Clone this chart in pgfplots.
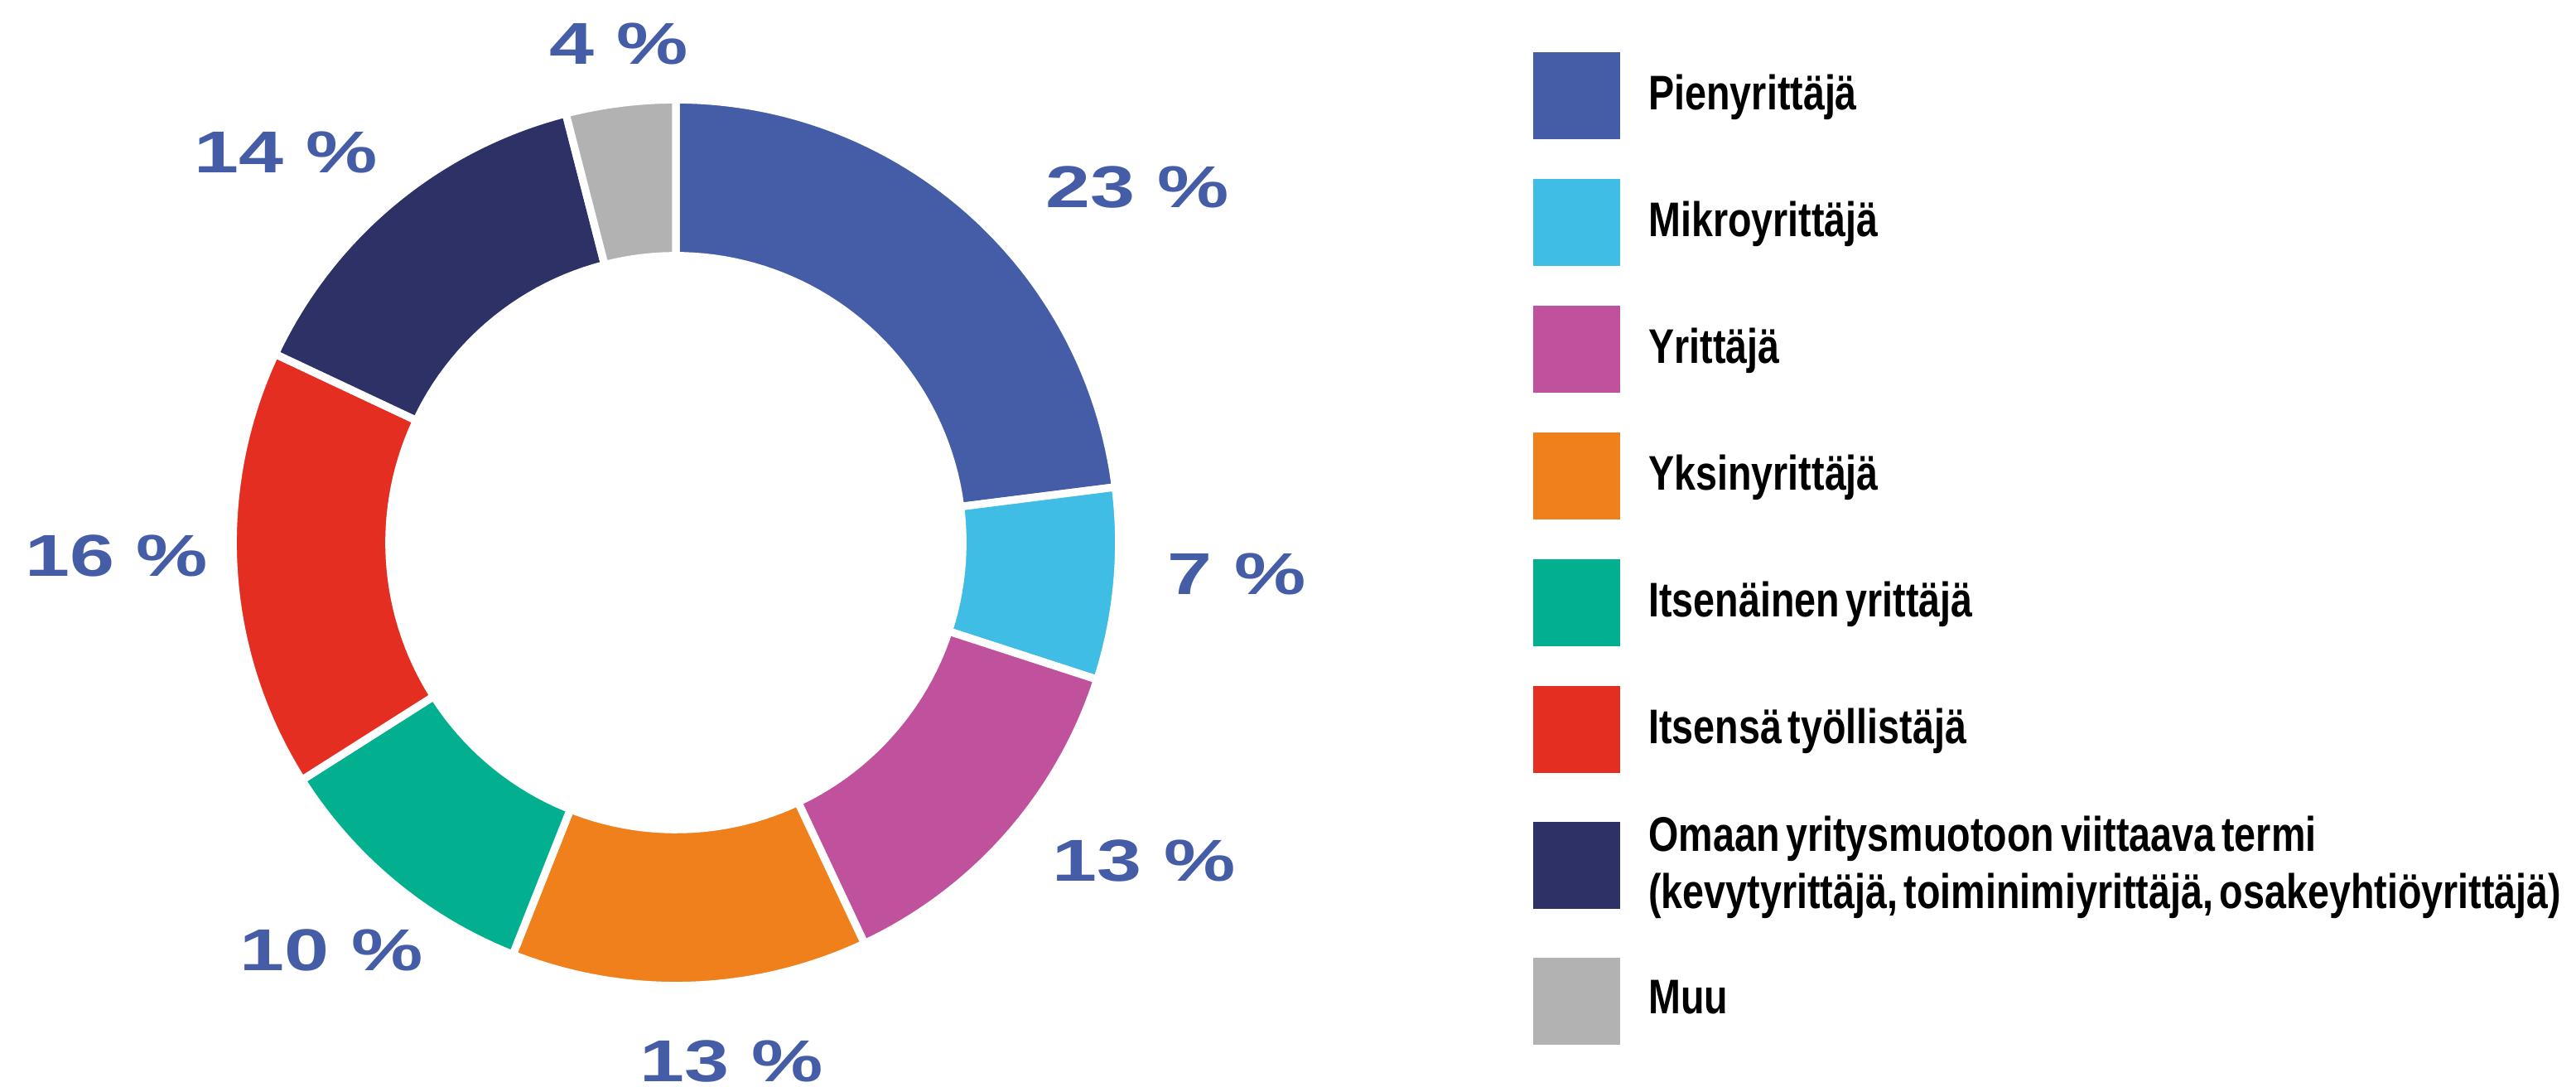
\documentclass[border=0pt]{standalone}
\usepackage{pgfplots}
\pgfplotsset{compat=1.18}
\usepackage{fontspec}
\setmainfont{Liberation Sans}
\newfontfamily\legfont[FakeStretch=0.795, WordSpace=0.6]{Liberation Sans}
\newfontfamily\labfont[FakeStretch=1.36]{Liberation Sans}
\definecolor{cPien}{HTML}{455DA7}
\definecolor{cMikro}{HTML}{3FBDE4}
\definecolor{cYritt}{HTML}{C0519C}
\definecolor{cYksin}{HTML}{EF801C}
\definecolor{cItsen}{HTML}{02B08F}
\definecolor{cTyo}{HTML}{E52E22}
\definecolor{cOmaan}{HTML}{2E3166}
\definecolor{cMuu}{HTML}{B2B2B2}
\definecolor{labblue}{HTML}{455DA7}
\tikzset{lab/.style={font=\labfont\bfseries\fontsize{10.7}{12}\selectfont, text=labblue, inner sep=0pt}}
\newcommand\cum{0}
\newcommand\slice[3]{%
  \pgfmathsetmacro\aS{90-3.6*\cum}%
  \pgfmathsetmacro\newcum{\cum+#1}%
  \pgfmathsetmacro\aE{90-3.6*\newcum}%
  \edef\doplot{\noexpand\addplot[fill=#2, draw=white, line width=1.4pt, line join=round, domain=\aE:\aS, samples=90] ({1.009*cos(x)},{1.009*sin(x)}) -- (0,0) -- cycle;}%
  \doplot
  \addlegendentry{#3}%
  \xdef\cum{\newcum}%
}
\begin{document}
\begin{tikzpicture}
\begin{axis}[
  scale only axis, width=466.5pt, height=196.8pt,
  xmin=-1.5396, xmax=4.328, ymin=-1.2396, ymax=1.2358,
  hide axis, clip=false,
  legend cell align=left,
  legend image code/.code={\fill[#1,draw=none] (0pt,-7.875pt) rectangle (15.75pt,7.875pt);},
  legend style={at={(0.5949,0.9527)}, anchor=north west, draw=none, fill=none,
    inner sep=0pt, row sep=7.2pt,
    font=\legfont\bfseries\fontsize{8.8}{10.4}\selectfont,
    nodes={align=left},
    /tikz/every odd column/.append style={column sep=3.1pt}},
]
\path (rel axis cs:0,0) rectangle (rel axis cs:1,1);
\slice{23}{cPien}{Pienyrittäjä}
\slice{7}{cMikro}{Mikroyrittäjä}
\slice{13}{cYritt}{Yrittäjä}
\slice{13}{cYksin}{Yksinyrittäjä}
\slice{10}{cItsen}{Itsenäinen yrittäjä}
\slice{16}{cTyo}{Itsensä työllistäjä}
\slice{14}{cOmaan}{\raisebox{8.59pt}[13.5pt][0pt]{\begin{tabular}[t]{@{}l@{}}Omaan yritysmuotoon viittaava termi\\(kevytyrittäjä, toiminimiyrittäjä, osakeyhtiöyrittäjä)\end{tabular}}}
\slice{4}{cMuu}{Muu}
\addplot[fill=white, draw=none, domain=0:360, samples=180, forget plot] ({0.662*cos(x)},{0.662*sin(x)}) -- cycle;
\node[lab] at (axis cs:1.051,0.810) {23 \%};
\node[lab] at (axis cs:1.277,-0.071) {7 \%};
\node[lab] at (axis cs:1.066,-0.725) {13 \%};
\node[lab] at (axis cs:0.126,-1.181) {13 \%};
\node[lab] at (axis cs:-0.785,-0.929) {10 \%};
\node[lab] at (axis cs:-1.274,-0.031) {16 \%};
\node[lab] at (axis cs:-0.889,0.889) {14 \%};
\node[lab] at (axis cs:-0.130,1.135) {4 \%};
\end{axis}
\end{tikzpicture}
\end{document}
